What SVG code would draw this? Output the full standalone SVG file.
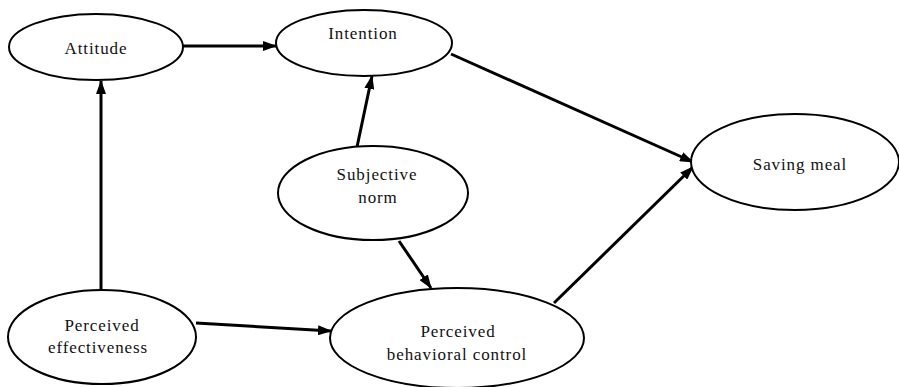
<svg xmlns="http://www.w3.org/2000/svg" width="899" height="387" viewBox="0 0 899 387">
<defs>
<style>
.node ellipse{fill:#fff;stroke:#000;stroke-width:2}
.node text{font-family:'Liberation Serif','DejaVu Serif',serif;font-size:17px;fill:#111;text-anchor:middle;letter-spacing:0.9px}
.edges line{stroke:#000;stroke-width:3;marker-end:url(#ah)}
</style>
<marker id="ah" markerUnits="userSpaceOnUse" markerWidth="14" markerHeight="10" refX="13" refY="5" orient="auto">
<path d="M0,0 L14,5 L0,10 z" fill="#000"/>
</marker>
</defs>
<rect width="899" height="387" fill="#fff"/>
<g class="edges">
<line x1="182" y1="46" x2="276" y2="46"/>
<line x1="101" y1="290" x2="101" y2="81"/>
<line x1="357" y1="147" x2="372" y2="76"/>
<line x1="399" y1="241" x2="431" y2="288"/>
<line x1="451" y1="54" x2="693" y2="162"/>
<line x1="554" y1="303" x2="693" y2="167"/>
<line x1="196" y1="323" x2="331" y2="331"/>
</g>
<g id="attitude" class="node"><ellipse cx="96" cy="47" rx="87" ry="33"/><text x="96" y="54">Attitude</text></g>
<g id="intention" class="node"><ellipse cx="364" cy="43" rx="88" ry="33"/><text x="363" y="39">Intention</text></g>
<g id="subjective-norm" class="node"><ellipse cx="373" cy="193" rx="95" ry="47"/><text x="377" y="180">Subjective</text><text x="378" y="203">norm</text></g>
<g id="saving-meal" class="node"><ellipse cx="795" cy="162" rx="104" ry="48"/><text x="800" y="170">Saving meal</text></g>
<g id="perceived-effectiveness" class="node"><ellipse cx="102" cy="337" rx="94" ry="47"/><text x="102" y="331">Perceived</text><text x="98" y="353">effectiveness</text></g>
<g id="pbc" class="node"><ellipse cx="457" cy="338" rx="127" ry="50"/><text x="458" y="337">Perceived</text><text x="457" y="360">behavioral control</text></g>
</svg>
